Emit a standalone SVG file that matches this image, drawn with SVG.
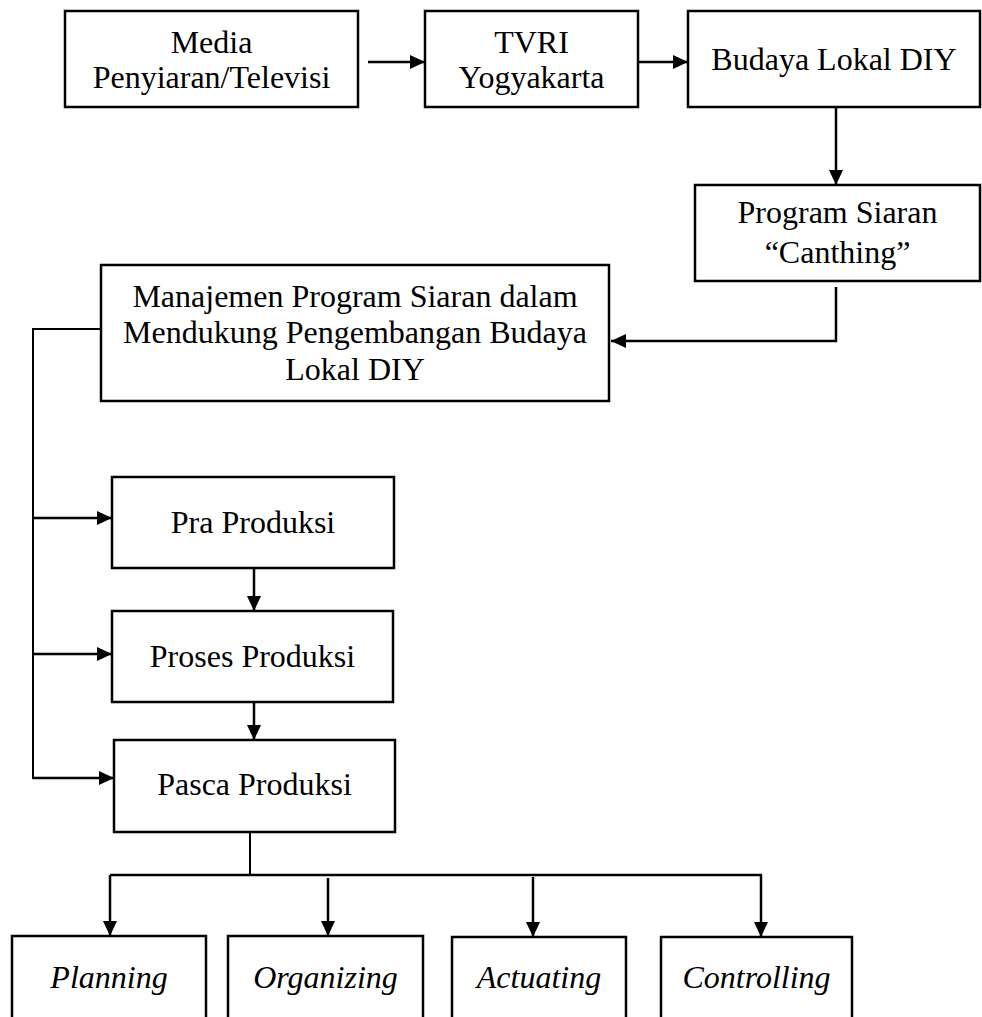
<svg xmlns="http://www.w3.org/2000/svg" width="982" height="1017" viewBox="0 0 982 1017">
<style>
.box{fill:#fff;stroke:#000;stroke-width:2.5}
.t{font-family:"Liberation Serif","Times New Roman",serif;font-size:32px;fill:#000;text-anchor:middle}
.i{font-style:italic}
.c{fill:none;stroke:#000;stroke-width:2.5}
.thin{fill:none;stroke:#000;stroke-width:2}
</style>
<defs>
<marker id="ah" markerUnits="userSpaceOnUse" markerWidth="17" markerHeight="15" refX="15" refY="7" orient="auto">
<path d="M0,0 L15,7 L0,14 z" fill="#000"/>
</marker>
</defs>
<rect width="982" height="1017" fill="#fff"/>
<g id="connectors">
<path class="c" d="M368,62 H425" marker-end="url(#ah)"/>
<path class="c" d="M638,62 H688" marker-end="url(#ah)"/>
<path class="c" d="M836,107 V185" marker-end="url(#ah)"/>
<path class="c" d="M836,287 V341 H611" marker-end="url(#ah)"/>
<path class="thin" d="M101,329 H33 V779"/>
<path class="c" d="M33,518 H112" marker-end="url(#ah)"/>
<path class="c" d="M33,654 H112" marker-end="url(#ah)"/>
<path class="c" d="M33,778 H114" marker-end="url(#ah)"/>
<path class="c" d="M254,568 V611" marker-end="url(#ah)"/>
<path class="c" d="M254,702 V740" marker-end="url(#ah)"/>
<path class="thin" d="M250,832 V875"/>
<path class="c" d="M110,875 H762"/>
<path class="c" d="M110,875 V936" marker-end="url(#ah)"/>
<path class="c" d="M328,878 V936" marker-end="url(#ah)"/>
<path class="c" d="M533,877 V937" marker-end="url(#ah)"/>
<path class="c" d="M761,875 V937" marker-end="url(#ah)"/>
</g>
<g id="media"><rect class="box" x="65" y="11" width="293" height="96"/><text class="t" x="211.5" y="53">Media</text><text class="t" x="211.5" y="88">Penyiaran/Televisi</text></g>
<g id="tvri"><rect class="box" x="425" y="11" width="213" height="96"/><text class="t" x="531.5" y="53">TVRI</text><text class="t" x="531.5" y="88">Yogyakarta</text></g>
<g id="budaya"><rect class="box" x="688" y="11" width="292" height="96"/><text class="t" x="834" y="70">Budaya Lokal DIY</text></g>
<g id="program"><rect class="box" x="695" y="185" width="285" height="96"/><text class="t" x="837.5" y="223">Program Siaran</text><text class="t" x="837.5" y="263">“Canthing”</text></g>
<g id="manajemen"><rect class="box" x="101" y="265" width="508" height="136"/><text class="t" x="355" y="307">Manajemen Program Siaran dalam</text><text class="t" x="355" y="343">Mendukung Pengembangan Budaya</text><text class="t" x="355" y="380">Lokal DIY</text></g>
<g id="pra"><rect class="box" x="112" y="477" width="282" height="91"/><text class="t" x="253" y="533">Pra Produksi</text></g>
<g id="proses"><rect class="box" x="112" y="611" width="281" height="91"/><text class="t" x="252.5" y="667">Proses Produksi</text></g>
<g id="pasca"><rect class="box" x="114" y="740" width="281" height="92"/><text class="t" x="254.5" y="795">Pasca Produksi</text></g>
<g id="planning"><rect class="box" x="12" y="936" width="194" height="100"/><text class="t i" x="109" y="988">Planning</text></g>
<g id="organizing"><rect class="box" x="228" y="936" width="195" height="100"/><text class="t i" x="325.5" y="988">Organizing</text></g>
<g id="actuating"><rect class="box" x="452" y="937" width="174" height="100"/><text class="t i" x="539" y="988">Actuating</text></g>
<g id="controlling"><rect class="box" x="661" y="937" width="191" height="100"/><text class="t i" x="756.5" y="988">Controlling</text></g>
</svg>
